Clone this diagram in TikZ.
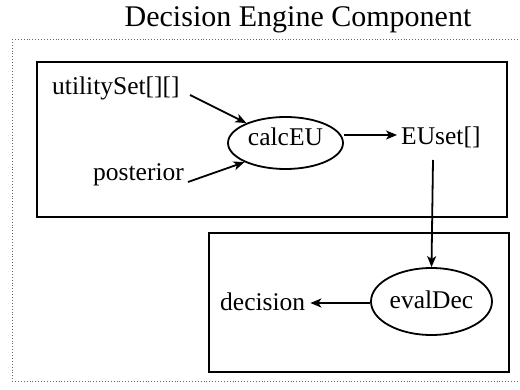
\documentclass[tikz,border=0pt]{standalone}
\usepackage{fontspec}
\setmainfont{Liberation Serif}
\usetikzlibrary{shapes.geometric,arrows.meta}
\begin{document}
\begin{tikzpicture}[x=1pt,y=-1pt,
  lbl/.style={font=\fontsize{25.5}{28}\selectfont, inner sep=0pt},
  proc/.style={draw, ellipse, line width=1.8pt, inner sep=0pt},
  box/.style={draw, line width=2pt},
  arr/.style={-{Stealth[length=11pt,width=9pt,inset=3pt]}, line width=1.8pt}]
\useasboundingbox (0,0) rectangle (520,390);
\node[font=\fontsize{30}{34}\selectfont, inner sep=0pt] (title) at (298,20) {Decision Engine Component};
\draw[dotted, gray!80!black, line width=0.9pt] (12,39) -- (519,39) (12,39) -- (12,381) -- (519,381);
\draw[box] (37,62) rectangle (507,217);
\draw[box] (209,233) rectangle (509,372);
\node[proc, minimum width=115pt, minimum height=52pt] (calc) at (285.5,143) {};
\node[lbl] at (285.5,137) {calcEU};
\node[proc, minimum width=121pt, minimum height=67pt] (eval) at (431.5,301.5) {};
\node[lbl] at (431.5,300) {evalDec};
\node[lbl, anchor=west] (util) at (52,88) {utilitySet[][]};
\node[lbl, anchor=west] (post) at (93,175) {posterior};
\node[lbl, anchor=west] (euset) at (401,137) {EUset[]};
\node[lbl, anchor=west] (dec) at (220,302) {decision};
\coordinate (u1) at (190,95);
\coordinate (p1) at (188,182);
\coordinate (e1) at (433,160);
\draw[arr] (u1) -- (calc.153);
\draw[arr] (p1) -- (calc.205);
\draw[arr, shorten >=4pt] (calc.east |- 0,135) -- (euset.west |- 0,135);
\draw[arr] (e1) -- (eval.north);
\draw[arr, shorten >=5pt] (eval.west |- 0,303) -- (dec.east |- 0,303);
\end{tikzpicture}
\end{document}
